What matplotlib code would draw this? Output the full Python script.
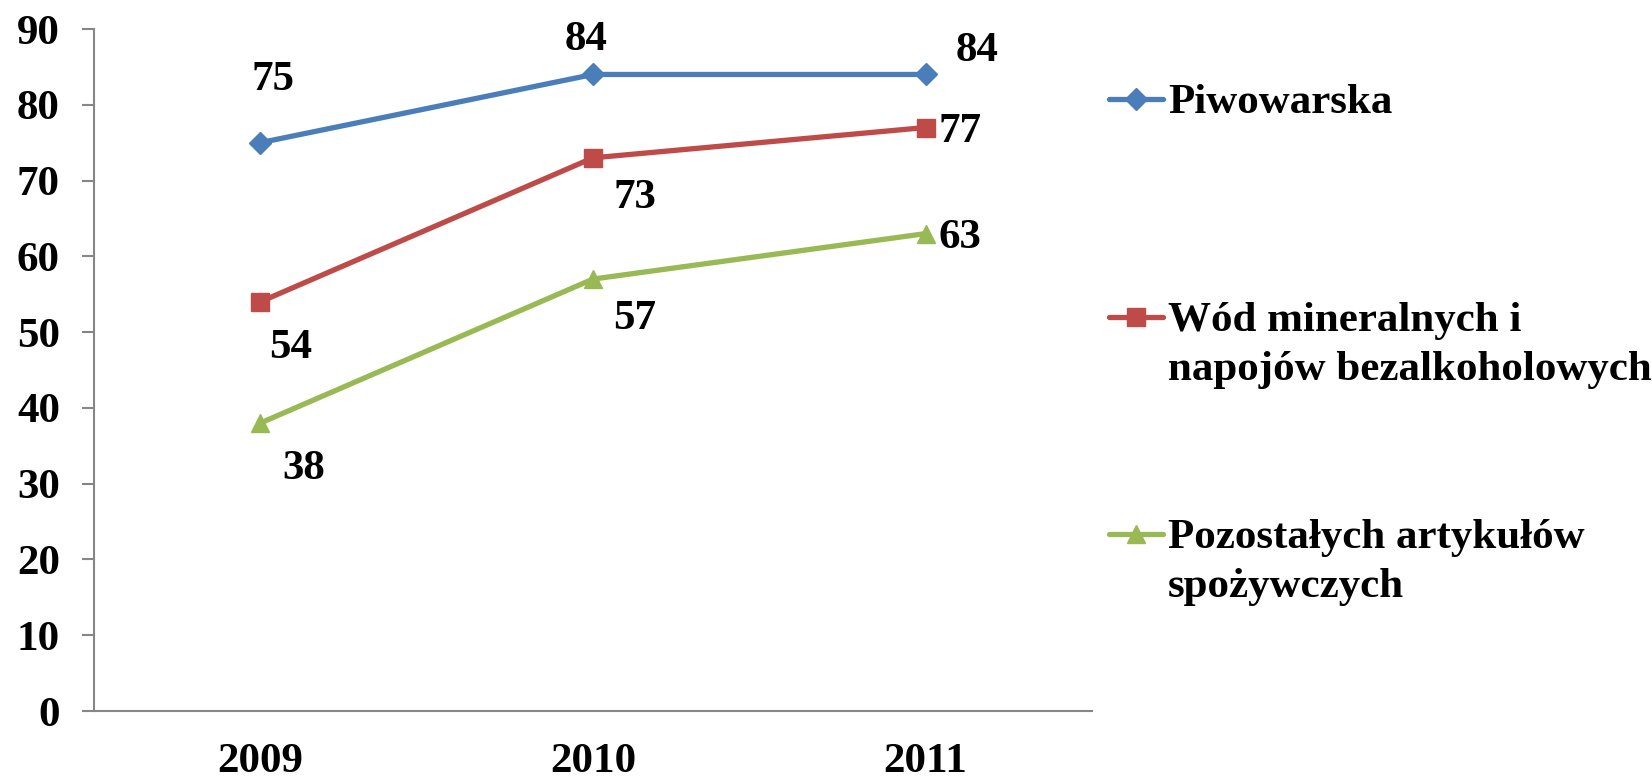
import matplotlib.pyplot as plt
from matplotlib.lines import Line2D

# Data
years = ['2009', '2010', '2011']
piwowarska = [75, 84, 84]
wody = [54, 73, 77]
pozostale = [38, 57, 63]
labels = ['Piwowarska', 'Wód mineralnych i\nnapojów bezalkoholowych', 'Pozostałych artykułów\nspożywczych']

colors = ['#4A7EBB', '#BE4B48', '#98B954']
markers = ['D', 's', '^']
msizes = [11, 12.5, 12.5]
# label offsets in points (per series, per point)
offsets = [
    [(9, 45), (-5, 25), (37, 17)],
    [(22, -33), (30, -29), (25, -3)],
    [(31, -33), (30, -29), (25, -3)],
]

plt.rcParams['font.family'] = ['Liberation Serif', 'DejaVu Serif']
plt.rcParams['font.weight'] = 'bold'
FS = 31

fig = plt.figure(figsize=(16.52, 7.79), dpi=100)
ax = fig.add_axes([94 / 1652, 1 - 711 / 779, (1092 - 94) / 1652, (711 - 29) / 779])

x = [i + 0.5 for i in range(len(years))]
series = [piwowarska, wody, pozostale]
for vals, c, m, ms, offs in zip(series, colors, markers, msizes, offsets):
    ax.plot(x, vals, color=c, lw=3.8, marker=m, markersize=ms, markeredgecolor=c, solid_capstyle='round')
    for xi, v, off in zip(x, vals, offs):
        ax.annotate(str(v), (xi, v), xytext=off, textcoords='offset points',
                    ha='center', va='center', fontsize=FS, fontweight='bold')

ax.set_xlim(0, 3)
ax.set_ylim(0, 90)
ax.set_yticks(range(0, 91, 10))
ax.set_xticks(x)
ax.set_xticklabels(years)
for s in ['top', 'right']:
    ax.spines[s].set_visible(False)
for s in ['left', 'bottom']:
    ax.spines[s].set_color('#868686')
    ax.spines[s].set_linewidth(1.5)
ax.tick_params(axis='y', length=8.5, width=1.5, color='#868686', pad=16, labelsize=FS)
ax.tick_params(axis='x', length=0, pad=23, labelsize=FS)

# legend drawn by hand so the handle sits on the first text line
leg_y = [99, 317, 534]
for lab, c, m, ms, ly in zip(labels, colors, markers, msizes, leg_y):
    yf = 1 - ly / 779
    fig.add_artist(Line2D([1109 / 1652, 1163 / 1652], [yf, yf], color=c, lw=3.8,
                          solid_capstyle='round', transform=fig.transFigure))
    fig.add_artist(Line2D([1136 / 1652], [yf], color=c, marker=m, markersize=ms,
                          markeredgecolor=c, transform=fig.transFigure))
    for k, line in enumerate(lab.split('\n')):
        fig.text(1168 / 1652, 1 - (ly + 14 + 49 * k) / 779, line, fontsize=FS,
                 fontweight='bold', ha='left', va='baseline')

fig.savefig('out.png', dpi=100, facecolor='white')
